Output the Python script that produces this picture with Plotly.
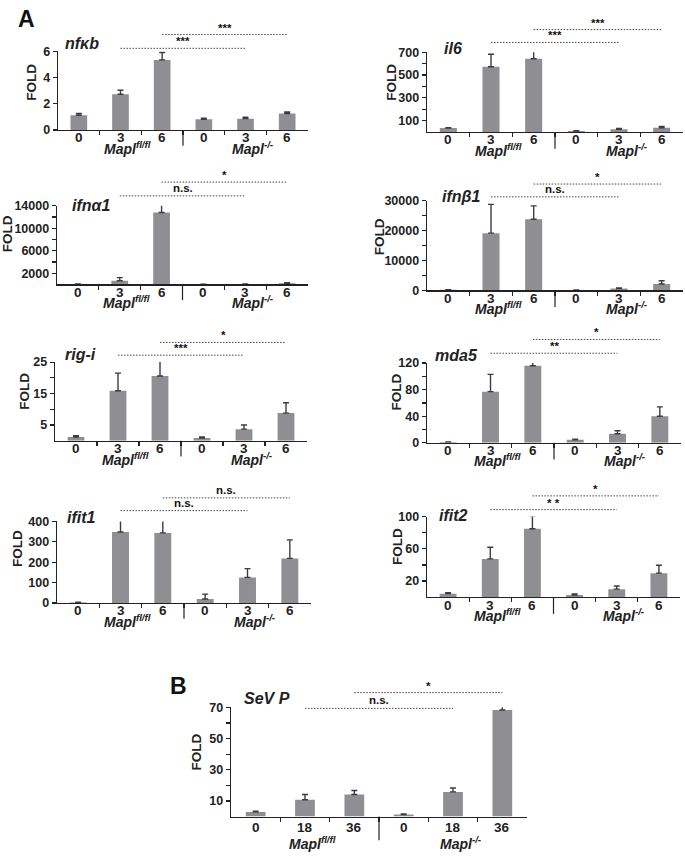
import plotly.graph_objects as go

W, H = 685, 857

# ---------------- data ----------------
categories = ["0", "3", "6", "0", "3", "6"]
categories_b = ["0", "18", "36", "0", "18", "36"]
group_labels = ["Mapl<sup>fl/fl</sup>", "Mapl<sup>-/-</sup>"]

nfkb = [1.12, 2.72, 5.34, 0.81, 0.86, 1.25]
nfkb_err = [0.13, 0.31, 0.56, 0.08, 0.11, 0.12]
il6 = [34, 572, 643, 8, 23, 37]
il6_err = [3, 111, 80, 2, 8, 11]
ifna1 = [40, 650, 12800, 20, 60, 200]
ifna1_err = [20, 550, 1600, 10, 40, 90]
ifnb1 = [150, 19150, 23800, 100, 600, 2100]
ifnb1_err = [50, 9650, 4500, 50, 200, 1100]
rigi = [1.2, 15.9, 20.6, 0.9, 3.7, 8.8]
rigi_err = [0.4, 5.6, 4.7, 0.3, 1.3, 3.3]
mda5 = [1, 77, 116, 4.5, 13.5, 40]
mda5_err = [0.3, 26, 7.5, 1.0, 4.7, 14]
ifit1 = [3, 348, 344, 20, 126, 219]
ifit1_err = [1, 75, 79, 24, 43, 91]
ifit2 = [4.4, 47.5, 84.8, 2.8, 10, 29.8]
ifit2_err = [1.2, 14.5, 16, 1.2, 3.8, 9.8]
sevp = [3.0, 10.8, 14.1, 1.3, 15.8, 68.3]
sevp_err = [0.4, 3.3, 2.6, 0.4, 2.5, 4.9]

sig_nfkb = ["***", "***"]
sig_il6 = ["***", "***"]
sig_ifna1 = ["n.s.", "*"]
sig_ifnb1 = ["n.s.", "*"]
sig_rigi = ["***", "*"]
sig_mda5 = ["**", "*"]
sig_ifit1 = ["n.s.", "n.s."]
sig_ifit2 = ["* *", "*"]
sig_sevp = ["n.s.", "*"]

# ---------------- layout helpers (window pixels -> paper) ----------------
def X(px):
    return px / W

def Y(py):
    return 1 - py / H

BAR = "#8f8f93"
INK = "#222222"
FONT = "Liberation Sans"

panels = [
    dict(title="nfκb", v=nfkb, e=nfkb_err, cats=categories, sig=sig_nfkb,
         yr=[0, 6], tv=[0, 2, 4, 6], tt=["0", "2", "4", "6"],
         x0=58, x1=308, yt=45, yb=125, tx=63, ty=37, fx=32, fy=76,
         s1=3, s2=17, lab=8, grp=18, div=16),
    dict(title="il6", v=il6, e=il6_err, cats=categories, sig=sig_il6,
         yr=[0, 700], tv=[100, 200, 300, 400, 500, 600, 700],
         tt=["100", " ", "300", " ", "500", " ", "700"],
         x0=427, x1=683, yt=46, yb=127, tx=442, ty=42, fx=392, fy=76,
         s1=10, s2=23, lab=8, grp=18, div=17),
    dict(title="ifnα1", v=ifna1, e=ifna1_err, cats=categories, sig=sig_ifna1,
         yr=[0, 14000], tv=[2000, 4000, 6000, 8000, 10000, 12000, 14000],
         tt=["2000", " ", "6000", " ", "10000", " ", "14000"],
         x0=57, x1=308, yt=202, yb=282, tx=70, ty=202, fx=7, fy=231,
         s1=10, s2=24, lab=8, grp=18, div=16),
    dict(title="ifnβ1", v=ifnb1, e=ifnb1_err, cats=categories, sig=sig_ifnb1,
         yr=[0, 30000], tv=[0, 5000, 10000, 15000, 20000, 25000, 30000],
         tt=["0", " ", "10000", " ", "20000", " ", "30000"],
         x0=427, x1=683, yt=197, yb=288, tx=440, ty=193, fx=379, fy=233,
         s1=4, s2=17, lab=8, grp=18, div=17),
    dict(title="rig-i", v=rigi, e=rigi_err, cats=categories, sig=sig_rigi,
         yr=[0, 25], tv=[5, 10, 15, 20, 25], tt=["5", " ", "15", " ", "25"],
         x0=55, x1=307, yt=361, yb=441, tx=63, ty=353, fx=25, fy=390,
         s1=7, s2=20, lab=8, grp=18, div=16),
    dict(title="mda5", v=mda5, e=mda5_err, cats=categories, sig=sig_mda5,
         yr=[0, 120], tv=[0, 20, 40, 60, 80, 100, 120],
         tt=["0", " ", "40", " ", "80", " ", "120"],
         x0=427, x1=681, yt=362, yb=443, tx=433, ty=354, fx=397, fy=392,
         s1=10, s2=24, lab=8, grp=18, div=17),
    dict(title="ifit1", v=ifit1, e=ifit1_err, cats=categories, sig=sig_ifit1,
         yr=[0, 400], tv=[0, 100, 200, 300, 400],
         tt=["0", "100", "200", "300", "400"],
         x0=57, x1=311, yt=523, yb=606, tx=65, ty=519, fx=18, fy=551,
         s1=11, s2=24, lab=8, grp=18, div=16),
    dict(title="ifit2", v=ifit2, e=ifit2_err, cats=categories, sig=sig_ifit2,
         yr=[0, 100], tv=[20, 40, 60, 80, 100], tt=["20", " ", "60", " ", "100"],
         x0=427, x1=680, yt=518, yb=600, tx=437, ty=517, fx=397, fy=549,
         s1=7, s2=21, lab=8, grp=18, div=17),
    dict(title="SeV P", v=sevp, e=sevp_err, cats=categories_b, sig=sig_sevp,
         yr=[0, 70], tv=[10, 20, 30, 40, 50, 60, 70],
         tt=["10", " ", "30", " ", "50", " ", "70"],
         x0=231, x1=527, yt=712, yb=823, tx=242, ty=703, fx=197, fy=758,
         s1=-1, s2=15, lab=11, grp=27, div=24),
]

fig = go.Figure()
shapes = []
annotations = []

for i, p in enumerate(panels, start=1):
    xa = "x" if i == 1 else f"x{i}"
    ya = "y" if i == 1 else f"y{i}"
    xkey = "xaxis" if i == 1 else f"xaxis{i}"
    ykey = "yaxis" if i == 1 else f"yaxis{i}"
    idx = list(range(len(p["v"])))

    fig.add_trace(go.Bar(
        x=idx, y=p["v"], width=0.4, marker=dict(color=BAR, line=dict(width=0)),
        error_y=dict(type="data", array=p["e"], arrayminus=[0] * len(p["e"]),
                     symmetric=False, color="#3c3c3c", thickness=1.4, width=3),
        xaxis=xa, yaxis=ya, showlegend=False, hoverinfo="skip",
    ))

    fig.layout[xkey] = dict(
        domain=[X(p["x0"]), X(p["x1"])], anchor=ya, range=[-0.5, 5.5],
        tickvals=[0.5, 1.5, 2.5, 3.5, 4.5], showticklabels=False,
        ticks="outside", ticklen=4, tickwidth=1.2, tickcolor=INK,
        showline=True, linecolor=INK, linewidth=1.3,
        showgrid=False, zeroline=False, fixedrange=True,
    )
    fig.layout[ykey] = dict(
        domain=[Y(p["yb"]), Y(p["yt"])], anchor=xa, range=p["yr"],
        tickmode="array", tickvals=p["tv"], ticktext=p["tt"],
        ticks="outside", ticklen=4, tickwidth=1.2, tickcolor=INK,
        showline=True, linecolor=INK, linewidth=1.3,
        showgrid=False, zeroline=False, fixedrange=True,
        tickfont=dict(family=FONT, size=12.5, color=INK, weight="bold"),
    )

    for k, c in enumerate(p["cats"]):
        annotations.append(dict(
            x=k, xref=xa, y=Y(p["yb"] + p["lab"]), yref="paper",
            text=f"<b>{c}</b>", showarrow=False, xanchor="center", yanchor="middle",
            font=dict(family=FONT, size=13.5, color=INK)))
    for g, lbl in enumerate(group_labels):
        annotations.append(dict(
            x=1 + 3 * g, xref=xa, xshift=7, y=Y(p["yb"] + p["grp"]), yref="paper",
            text=f"<b><i>{lbl}</i></b>", showarrow=False, xanchor="center",
            yanchor="middle", font=dict(family=FONT, size=14, color=INK)))
    shapes.append(dict(type="line", xref=xa, yref="paper", x0=2.5, x1=2.5,
                       y0=Y(p["yb"]), y1=Y(p["yb"] + p["div"]),
                       line=dict(color=INK, width=1.2)))
    annotations.append(dict(
        x=X(p["tx"]), y=Y(p["ty"]), xref="paper", yref="paper",
        text=f"<b><i>{p['title']}</i></b>", showarrow=False,
        xanchor="left", yanchor="middle",
        font=dict(family=FONT, size=16, color=INK)))
    annotations.append(dict(
        x=X(p["fx"]), y=Y(p["fy"]), xref="paper", yref="paper",
        text="<b>FOLD</b>", showarrow=False, textangle=-90,
        xanchor="center", yanchor="middle",
        font=dict(family=FONT, size=13.5, color=INK)))
    for (a, b, off, lab) in [(1, 4, p["s1"], p["sig"][0]), (2, 5, p["s2"], p["sig"][1])]:
        yl = Y(p["yt"] - off)
        shapes.append(dict(type="line", xref=xa, yref="paper", x0=a, x1=b,
                           y0=yl, y1=yl,
                           line=dict(color="#444", width=1, dash="1.5px,1.5px")))
        annotations.append(dict(
            x=(a + b) / 2, xref=xa, y=yl, yref="paper",
            yshift=-1 if "*" in lab else 0,
            text=f"<b>{lab}</b>", showarrow=False, xanchor="center", yanchor="bottom",
            font=dict(family=FONT, size=11.5, color="#111")))

annotations.append(dict(x=X(16), y=Y(12), xref="paper", yref="paper", text="<b>A</b>",
                        showarrow=False, xanchor="left", yanchor="middle",
                        font=dict(family=FONT, size=23, color="#111")))
annotations.append(dict(x=X(168), y=Y(690), xref="paper", yref="paper", text="<b>B</b>",
                        showarrow=False, xanchor="left", yanchor="middle",
                        font=dict(family=FONT, size=23, color="#111")))

fig.update_layout(
    width=W, height=H, margin=dict(l=0, r=0, t=0, b=0),
    paper_bgcolor="white", plot_bgcolor="white",
    shapes=shapes, annotations=annotations, showlegend=False,
)

fig.write_html(
    "out.html",
    config={"displayModeBar": False, "staticPlot": True},
    post_script="document.body.style.margin='0';document.body.style.overflow='hidden';",
)
